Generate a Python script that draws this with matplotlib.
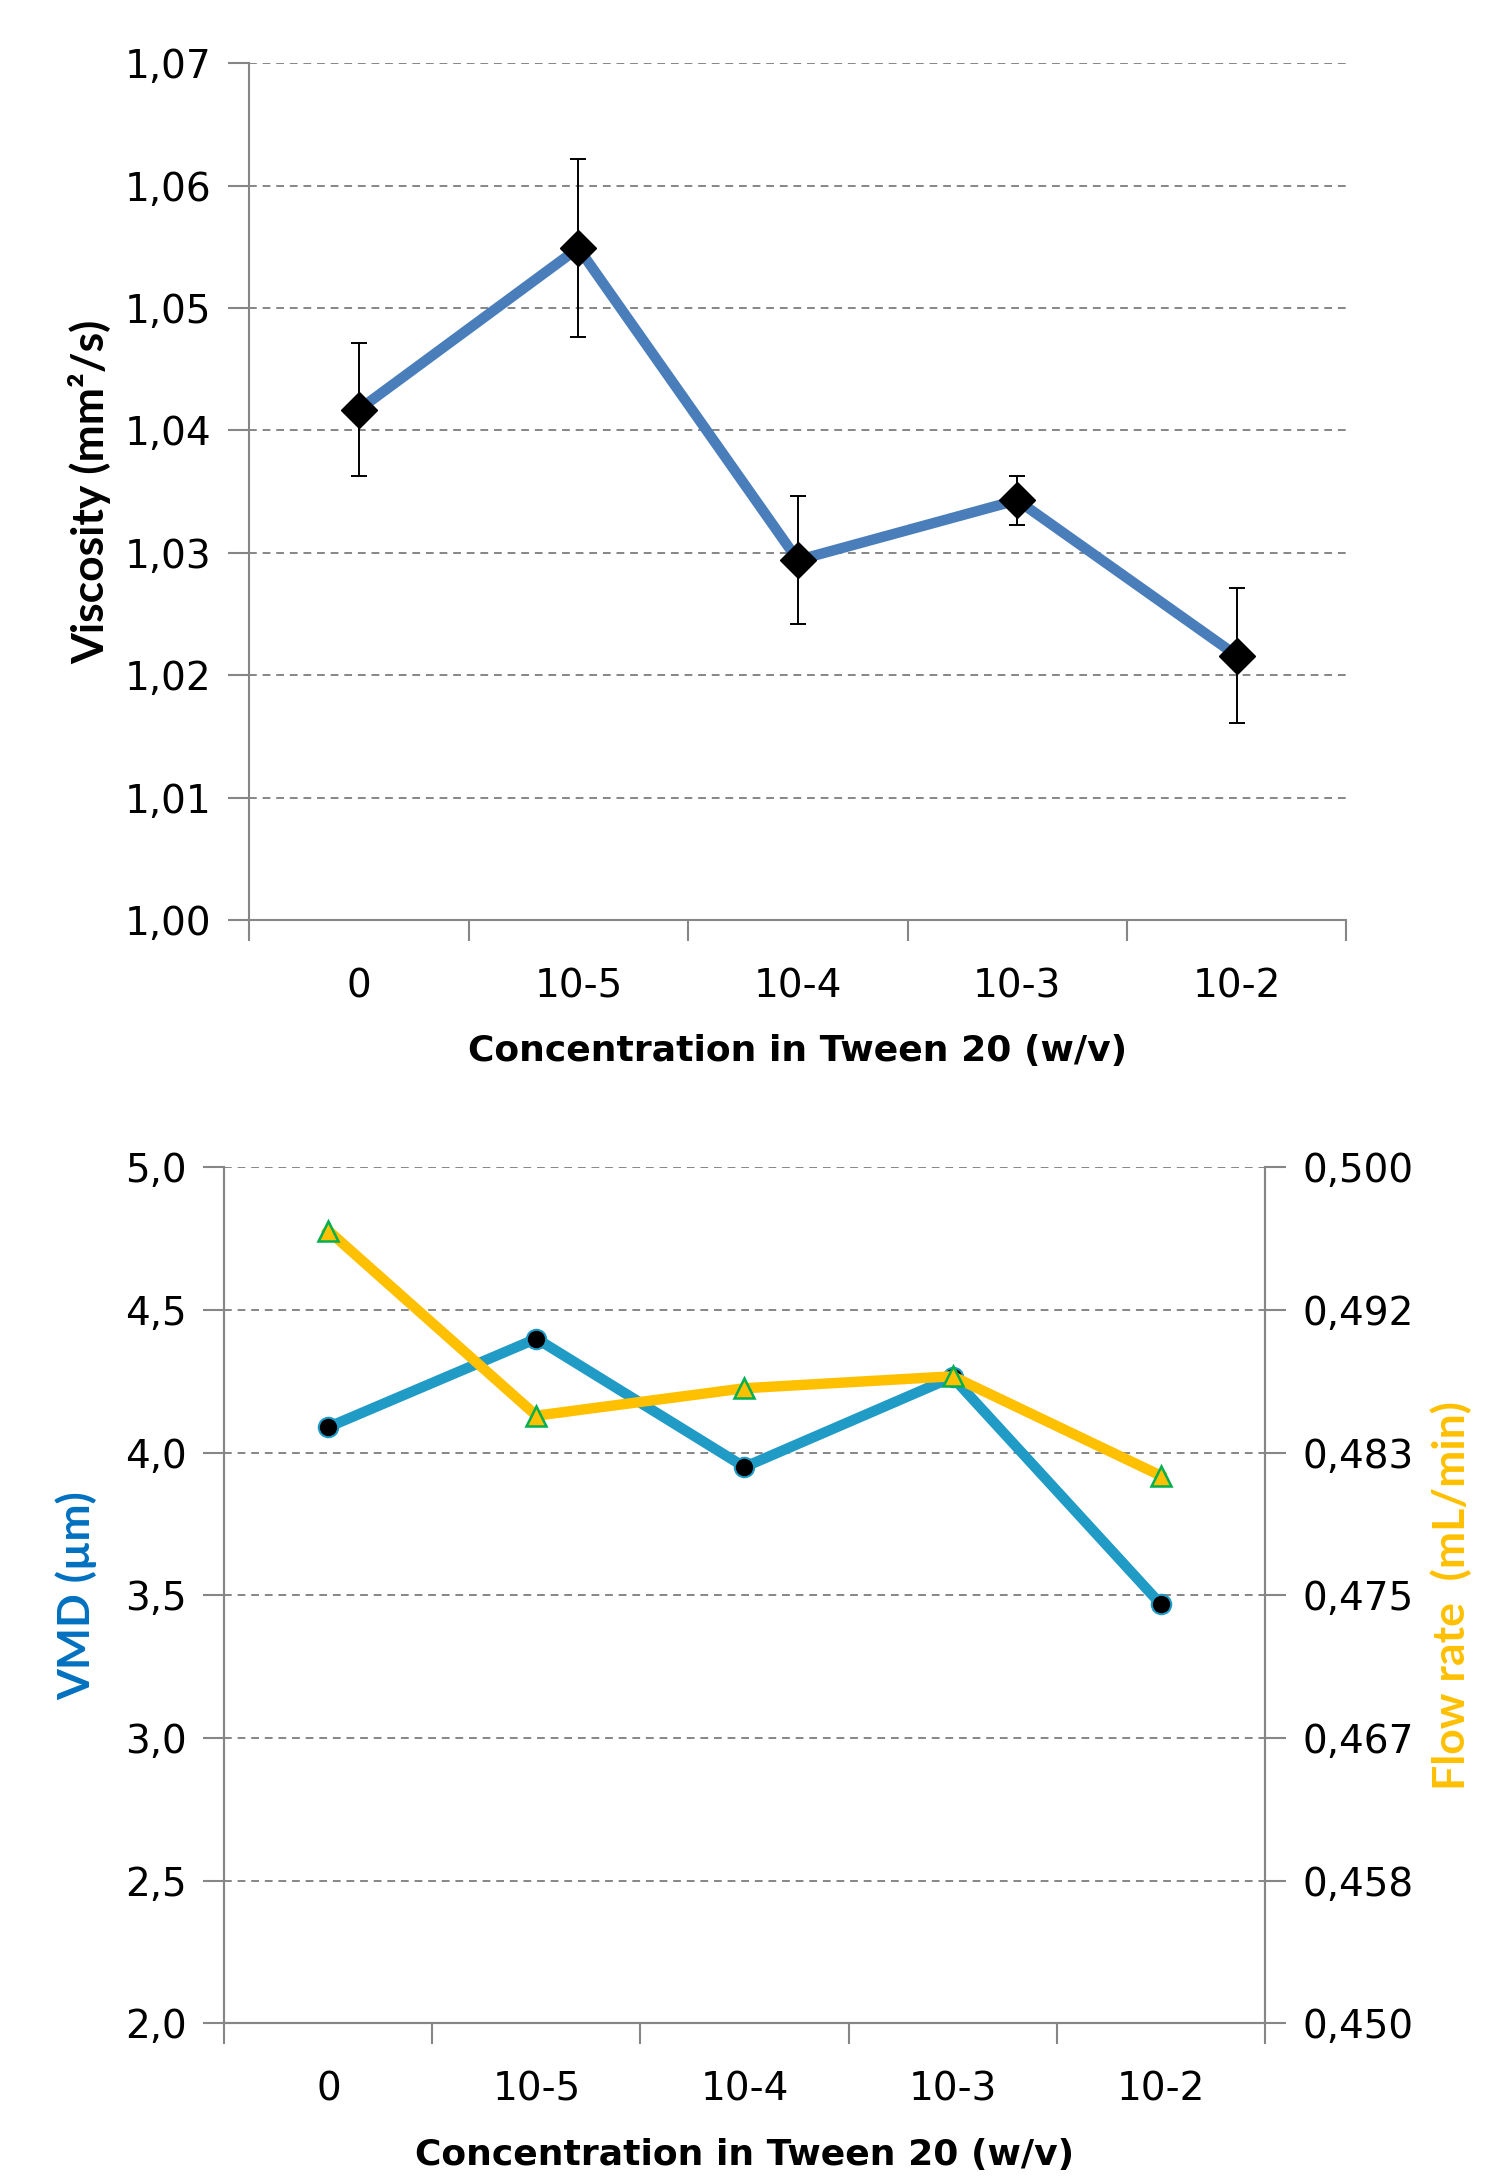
import numpy as np
import matplotlib
matplotlib.use("Agg")
from matplotlib import pyplot as plt
from matplotlib.ticker import FixedLocator, FuncFormatter

# categories (Tween 20 concentration)
categories = ['0', '10-5', '10-4', '10-3', '10-2']

# top chart: viscosity with error bars
viscosity = [1.0417, 1.0549, 1.0294, 1.0343, 1.0216]
visc_err = [0.0054, 0.0073, 0.0052, 0.0020, 0.0055]

# bottom chart: VMD (left axis) and flow rate (right axis)
vmd = [4.09, 4.40, 3.95, 4.265, 3.47]
flow = [0.4963, 0.4855, 0.4871, 0.4878, 0.4820]

grid_kw = dict(color='#868686', lw=1.4, ls=(0, (4, 3)))
spine_c = '#868686'
tick_font = dict(family='DejaVu Sans', size=28)
lab_font = 'DejaVu Sans'

fig = plt.figure(figsize=(15.01, 21.80), dpi=100)

x = np.arange(len(categories)) + 0.5


def setup_x(ax):
    ax.set_xlim(0, len(categories))
    ax.xaxis.set_major_locator(FixedLocator(x))
    ax.set_xticklabels(categories, fontdict=tick_font)
    ax.xaxis.set_minor_locator(FixedLocator(np.arange(len(categories) + 1)))
    ax.tick_params(axis='x', which='major', length=0, pad=34)
    ax.tick_params(axis='x', which='minor', length=15, width=1.5, color=spine_c, direction='out')
    ax.set_xlabel('Concentration in Tween 20 (w/v)', fontsize=26, fontweight='bold',
                  family=lab_font, labelpad=21)


# ---------- top: viscosity ----------
ax1 = fig.add_axes([0.166, 0.578, 0.731, 0.393])
ax1.set_ylim(1.00, 1.07)
yt = np.arange(1.00, 1.0701, 0.01)
ax1.set_yticks(yt)
ax1.set_yticklabels([f'{v:.2f}'.replace('.', ',') for v in yt], fontdict=tick_font)
for v in yt[1:]:
    ax1.axhline(v, zorder=0, **grid_kw)
ax1.plot(x, viscosity, color='#4A7EBB', lw=7.5, zorder=2)
ax1.errorbar(x, viscosity, yerr=visc_err, fmt='none', ecolor='black', elinewidth=1.4,
             capsize=6, capthick=1.4, zorder=3)
ax1.plot(x, viscosity, ls='none', marker='D', ms=18, color='black', zorder=4)
setup_x(ax1)
ax1.tick_params(axis='y', length=15, width=1.5, color=spine_c, pad=12)
for s in ['top', 'right']:
    ax1.spines[s].set_visible(False)
for s in ['left', 'bottom']:
    ax1.spines[s].set_color(spine_c)
    ax1.spines[s].set_linewidth(1.5)
ax1.set_ylabel('Viscosity (mm²/s)', fontsize=32, fontweight='bold', family='Lato', labelpad=10)

# ---------- bottom: VMD and flow rate ----------
ax2 = fig.add_axes([0.1495, 0.0718, 0.693, 0.3927])
ax2.set_ylim(2.0, 5.0)
yt2 = np.arange(2.0, 5.01, 0.5)
ax2.set_yticks(yt2)
ax2.set_yticklabels([f'{v:.1f}'.replace('.', ',') for v in yt2], fontdict=tick_font)
for v in yt2[1:]:
    ax2.axhline(v, zorder=0, **grid_kw)
ax2.plot(x, vmd, color='#1F9BC6', lw=7.5, marker='o', ms=14, mfc='black',
         mec='#1F9BC6', mew=1.5, zorder=3)
setup_x(ax2)
ax2.tick_params(axis='y', length=15, width=1.5, color=spine_c, pad=12)
ax2.set_ylabel('VMD (µm)', fontsize=32, fontweight='bold', family='Lato', color='#0070C0',
               labelpad=20)

ax3 = ax2.twinx()
ax3.set_ylim(0.450, 0.500)
yt3 = np.linspace(0.450, 0.500, 7)
ax3.yaxis.set_major_locator(FixedLocator(yt3))
ax3.yaxis.set_major_formatter(FuncFormatter(lambda v, p: f'{v:.3f}'.replace('.', ',')))
for lab in ax3.get_yticklabels():
    lab.set_fontfamily('DejaVu Sans')
ax3.tick_params(axis='y', length=15, width=1.5, color=spine_c, pad=12, labelsize=28)
ax3.plot(x, flow, color='#FFC000', lw=7.5, marker='^', ms=14, mfc='#FFC000',
         mec='#00B050', mew=1.8, zorder=3)
ax3.set_ylabel('Flow rate  (mL/min)', fontsize=32, fontweight='bold', family='Lato',
               color='#FFC000', labelpad=12)

for a in [ax2, ax3]:
    a.spines['top'].set_visible(False)
    for s in ['left', 'right', 'bottom']:
        a.spines[s].set_color(spine_c)
        a.spines[s].set_linewidth(1.5)

fig.savefig('out.png', dpi=100, facecolor='white')
